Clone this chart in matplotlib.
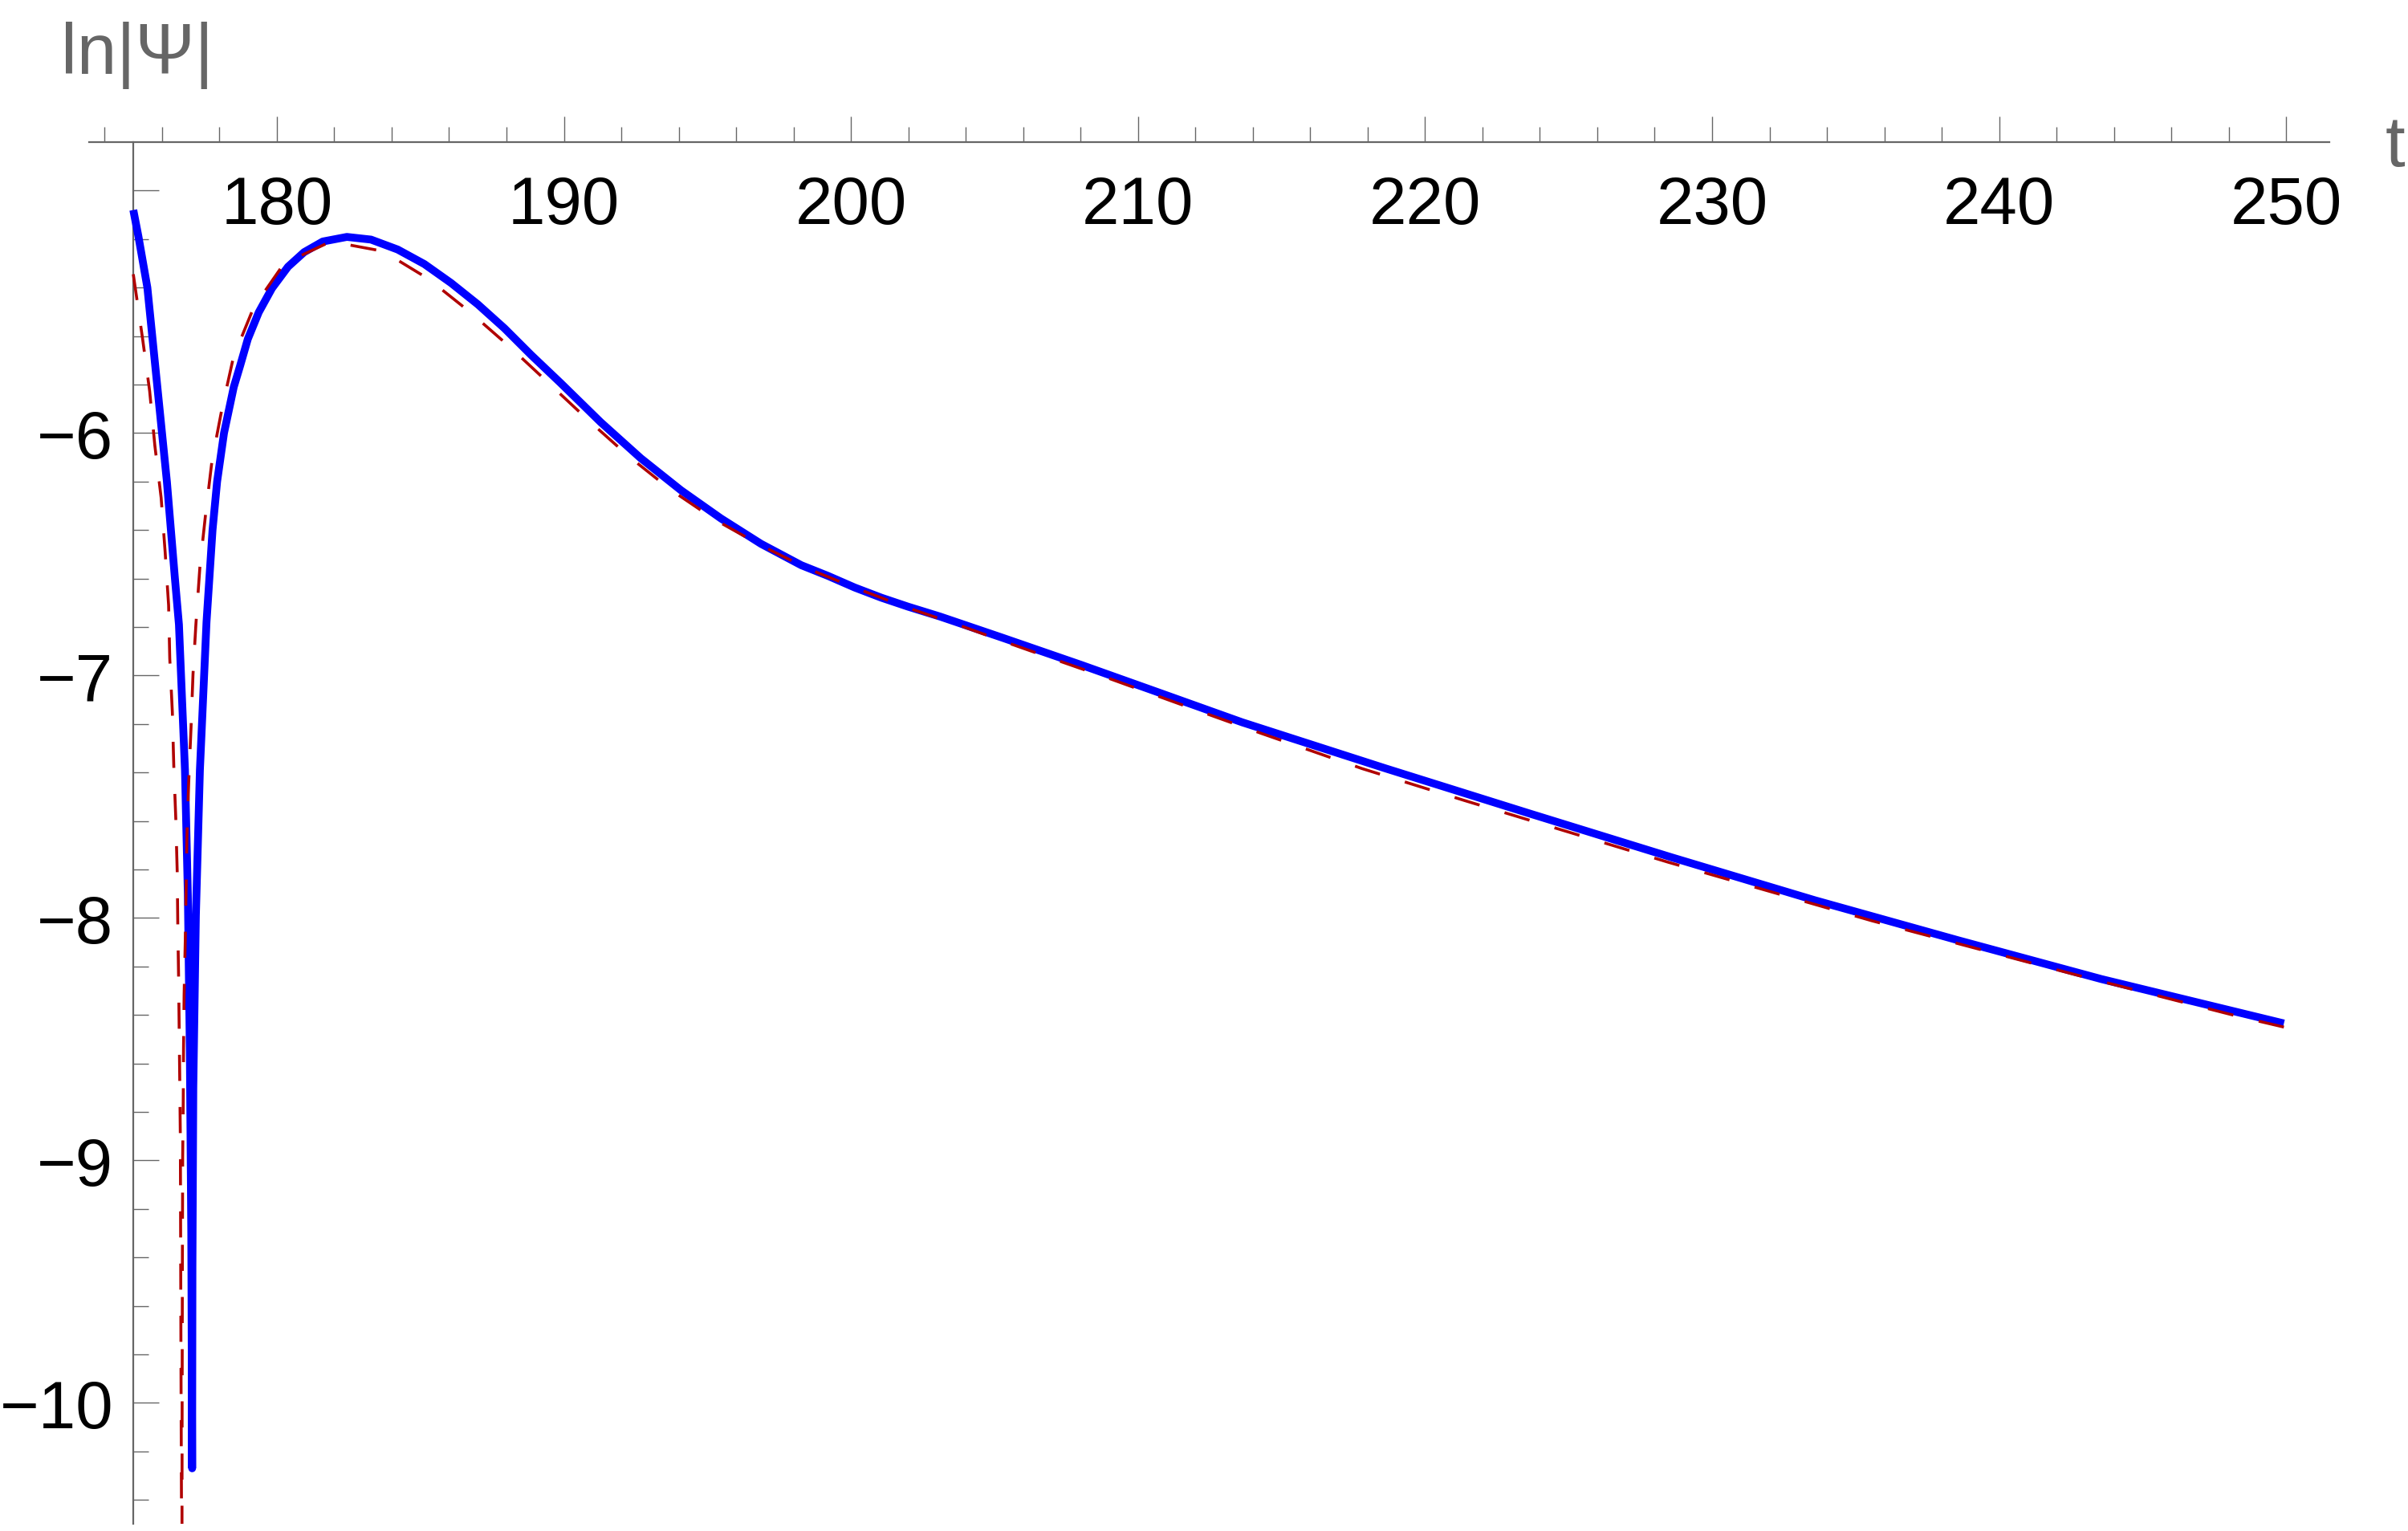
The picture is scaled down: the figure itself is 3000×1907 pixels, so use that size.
import numpy as np
import matplotlib.pyplot as plt

# data to plot
t_num = [175.00, 175.18, 175.49, 175.66, 175.83, 176.00, 176.17, 176.31, 176.45, 176.59,
         176.80, 176.90, 176.97, 177.02, 177.05, 177.06, 177.09, 177.18, 177.32, 177.55,
         177.76, 177.92, 178.16, 178.50, 178.72, 178.99, 179.37, 179.83, 180.39, 180.95,
         181.60, 182.44, 183.28, 184.21, 185.14, 186.07, 187.00, 187.93, 188.86, 189.89,
         191.28, 192.68, 194.08, 195.47, 196.87, 198.27, 199.20, 200.13, 201.06, 201.99,
         203.11, 205.25, 208.04, 210.84, 213.63, 218.62, 223.61, 228.59, 233.58, 238.57,
         243.56, 249.92]
lnpsi_num = [-5.08, -5.19, -5.40, -5.60, -5.80, -6.00, -6.20, -6.40, -6.60, -6.79,
             -7.39, -7.90, -8.55, -9.30, -10.27, -9.44, -8.70, -7.99, -7.39, -6.78,
             -6.40, -6.20, -6.00, -5.81, -5.723, -5.612, -5.502, -5.403, -5.314, -5.254,
             -5.210, -5.191, -5.202, -5.243, -5.303, -5.381, -5.469, -5.568, -5.678, -5.794,
             -5.955, -6.104, -6.236, -6.352, -6.457, -6.545, -6.589, -6.637, -6.679, -6.716,
             -6.757, -6.843, -6.957, -7.075, -7.193, -7.383, -7.568, -7.750, -7.927, -8.092,
             -8.252, -8.435]

t_fit = [175.00, 175.32, 175.57, 175.75, 175.97, 176.11, 176.23, 176.27, 176.36, 176.41,
         176.48, 176.53, 176.55, 176.58, 176.60, 176.62, 176.64, 176.66, 176.68, 176.69,
         176.70, 176.71, 176.72, 176.74, 176.75, 176.77, 176.81, 176.84, 176.87, 176.93,
         177.01, 177.08, 177.18, 177.32, 177.52, 177.74, 178.08, 178.49, 179.20, 180.25,
         181.88, 183.70, 185.28, 186.72, 188.12, 189.47, 190.87, 192.26, 193.71, 195.26,
         196.87, 198.55, 200.27, 202.01, 203.78, 205.53, 207.28, 209.04, 210.79, 212.54,
         214.28, 216.05, 217.81, 221.36, 228.47, 235.58, 242.69, 248.30, 249.92]
lnpsi_fit = [-5.345, -5.608, -5.827, -6.051, -6.267, -6.492, -6.71, -6.93, -7.15, -7.372,
             -7.59, -7.81, -8.03, -8.26, -8.475, -8.69, -8.92, -9.80, -10.48, -11.2,
             -10.06, -9.41, -8.985, -8.758, -8.537, -8.317, -8.096, -7.876, -7.655, -7.44,
             -7.217, -6.995, -6.79, -6.552, -6.333, -6.115, -5.905, -5.686, -5.480, -5.301,
             -5.210, -5.250, -5.364, -5.500, -5.645, -5.794, -5.949, -6.096, -6.233, -6.357,
             -6.464, -6.562, -6.644, -6.722, -6.793, -6.868, -6.941, -7.014, -7.089, -7.164,
             -7.238, -7.311, -7.384, -7.515, -7.77, -8.012, -8.235, -8.405, -8.45]

x_major = [180, 190, 200, 210, 220, 230, 240, 250]
x_labels = ['180', '190', '200', '210', '220', '230', '240', '250']
y_major = [-10, -9, -8, -7, -6, -5]
y_labels = ['\u221210', '\u22129', '\u22128', '\u22127', '\u22126', '']

plt.rcParams['font.family'] = ['Liberation Sans', 'DejaVu Sans']
gray = '#666666'

fig = plt.figure(figsize=(30, 19.08), dpi=100)
ax = fig.add_axes([0.037, 0.0045, 0.9303, 0.9022])

ax.plot(t_num, lnpsi_num, color='#0000ff', lw=7.0, solid_capstyle='butt', zorder=3)
ax.plot(t_fit, lnpsi_fit, color='#b00000', lw=2.6, dashes=(9, 9), zorder=4)

ax.set_xlim(173.46, 251.5)
ax.set_ylim(-10.5, -4.8)

# mathematica style axes: x axis along the top, y axis through t = 175
ax.spines['top'].set_visible(False)
ax.spines['right'].set_visible(False)
ax.spines['bottom'].set_position(('axes', 1.0))
ax.spines['left'].set_position(('data', 175))
for s in ['bottom', 'left']:
    ax.spines[s].set_color(gray)
    ax.spines[s].set_linewidth(1.6)
    ax.spines[s].set_zorder(1)

ax.set_xticks(x_major)
ax.set_xticklabels(x_labels)
ax.set_xticks(np.arange(174, 252, 2), minor=True)
ax.set_yticks(y_major)
ax.set_yticklabels(y_labels)
ax.set_yticks(np.arange(-10.4, -5.0, 0.2), minor=True)

ax.tick_params(which='both', direction='in', color=gray, width=1.0, labelcolor='black',
               labelsize=60)
ax.tick_params(which='major', length=23)
ax.tick_params(which='minor', length=13.5)
ax.tick_params(axis='x', which='major', pad=28.5)
ax.tick_params(axis='y', which='major', pad=17.8)

fig.text(0.0253, 0.9518, 'ln|\u03a8|', color=gray, fontsize=64, ha='left', va='baseline')
fig.text(0.9905, 0.8915, 't', color=gray, fontsize=64, ha='left', va='baseline')

fig.savefig('out.png', dpi=100)
